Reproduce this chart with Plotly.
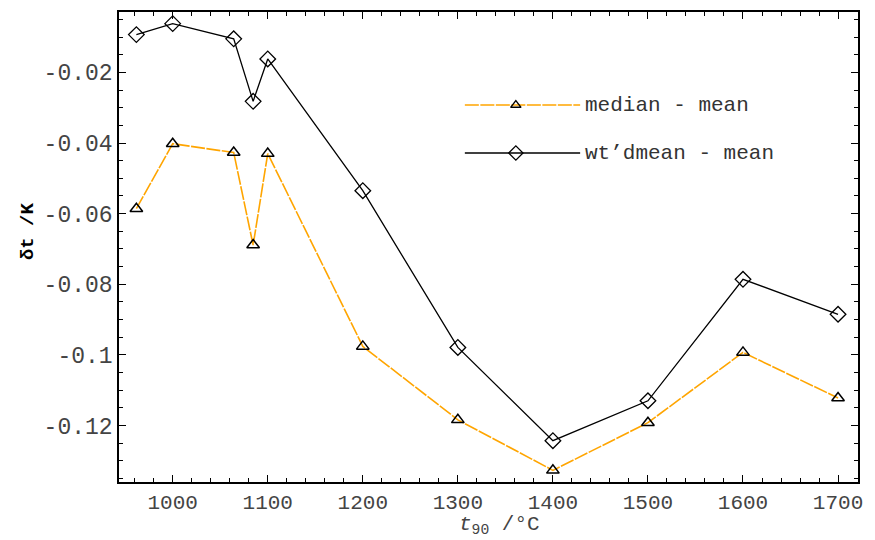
import plotly.graph_objects as go

# Data
temps = [961.78, 1000, 1064.18, 1084.62, 1100, 1200, 1300, 1400, 1500, 1600, 1700]
median_minus_mean = [-0.0586, -0.0402, -0.0427, -0.0689, -0.0430, -0.0976, -0.1184,
                     -0.1327, -0.1192, -0.0993, -0.1122]
wtd_minus_mean = [-0.0093, -0.0062, -0.0105, -0.0282, -0.0162, -0.0535, -0.0979,
                  -0.1243, -0.1130, -0.0786, -0.0885]
x_ticks = [1000, 1100, 1200, 1300, 1400, 1500, 1600, 1700]
x_ticktext = ["1000", "1100", "1200", "1300", "1400", "1500", "1600", "1700"]
y_ticks = [-0.02, -0.04, -0.06, -0.08, -0.1, -0.12]
y_ticktext = ["-0.02", "-0.04", "-0.06", "-0.08", "-0.1", "-0.12"]
series_names = ["median - mean", "wt\u2019dmean - mean"]

ORANGE = "#FFA500"
FONT = "Liberation Mono"
ODASH = "14px,1.5px"

fig = go.Figure()
fig.add_trace(go.Scatter(
    x=temps, y=median_minus_mean, mode="lines+markers", name=series_names[0],
    line=dict(color=ORANGE, width=1.6, dash=ODASH),
    marker=dict(symbol="triangle-up-open", size=11, color="black", line=dict(width=1.5)),
    showlegend=False))
fig.add_trace(go.Scatter(
    x=temps, y=wtd_minus_mean, mode="lines+markers", name=series_names[1],
    line=dict(color="black", width=1.3),
    marker=dict(symbol="diamond-open", size=12, color="black", line=dict(width=1.3)),
    showlegend=False))

# Legend keys drawn on a hidden overlay axis (0..1 plot-area space)
leg_line_x = [0.468, 0.624]
leg_mark_x = [0.537]
leg_y = [0.802, 0.700]
styles = [
    (dict(color=ORANGE, width=1.6, dash=ODASH),
     dict(symbol="triangle-up-open", size=9, color="black", line=dict(width=1.4))),
    (dict(color="black", width=1.3),
     dict(symbol="diamond-open", size=11, color="black", line=dict(width=1.3))),
]
for yy, (ln, mk) in zip(leg_y, styles):
    fig.add_trace(go.Scatter(x=leg_line_x, y=[yy, yy], xaxis="x2", yaxis="y2",
                             mode="lines", line=ln, showlegend=False, hoverinfo="skip"))
    fig.add_trace(go.Scatter(x=leg_mark_x, y=[yy], xaxis="x2", yaxis="y2",
                             mode="markers", marker=mk, showlegend=False, hoverinfo="skip"))

for name, yy in zip(series_names, leg_y):
    fig.add_annotation(x=0.628, y=yy, xref="paper", yref="paper", text=name,
                       showarrow=False, xanchor="left", yanchor="middle",
                       font=dict(family=FONT, size=21, color="#333333"))

# Axis titles as annotations for precise placement
fig.add_annotation(x=0.515, y=0, xref="paper", yref="paper", yshift=-57,
                   text="<i>t</i><sub>90</sub> /°C", showarrow=False,
                   xanchor="center", yanchor="bottom", borderpad=0,
                   font=dict(family=FONT, size=21, color="#444444"))
fig.add_annotation(x=-0.123, y=0.534, xref="paper", yref="paper", textangle=-90,
                   text="<b>\u03b4t /K</b>", showarrow=False,
                   xanchor="center", yanchor="middle",
                   font=dict(family=FONT, size=19, color="black"))

fig.update_layout(
    width=875, height=540,
    margin=dict(l=119, r=17, t=12, b=58),
    paper_bgcolor="white", plot_bgcolor="white",
    font=dict(family=FONT, color="#444444"),
    xaxis=dict(
        range=[943.5, 1721], tickvals=x_ticks, ticktext=x_ticktext, automargin=False,
        ticks="inside", ticklen=7, tickwidth=1.3, tickcolor="black",
        minor=dict(dtick=20, tick0=1000, ticks="inside", ticklen=4, tickwidth=1.2, tickcolor="black"),
        showline=True, linecolor="black", linewidth=1.6, mirror="ticks",
        showgrid=False, zeroline=False,
        tickfont=dict(family=FONT, size=21, color="#444444"),
    ),
    yaxis=dict(
        range=[-0.136, -0.0029], tickvals=y_ticks, ticktext=y_ticktext, automargin=False,
        ticks="inside", ticklen=7, tickwidth=1.3, tickcolor="black",
        minor=dict(dtick=0.005, tick0=0, ticks="inside", ticklen=4, tickwidth=1.2, tickcolor="black"),
        showline=True, linecolor="black", linewidth=1.6, mirror="ticks",
        showgrid=False, zeroline=False,
        tickfont=dict(family=FONT, size=23, color="#444444"),
    ),
    xaxis2=dict(range=[0, 1], overlaying="x", visible=False, fixedrange=True),
    yaxis2=dict(range=[0, 1], overlaying="y", visible=False, fixedrange=True),
)

fig.write_html("out.html")
